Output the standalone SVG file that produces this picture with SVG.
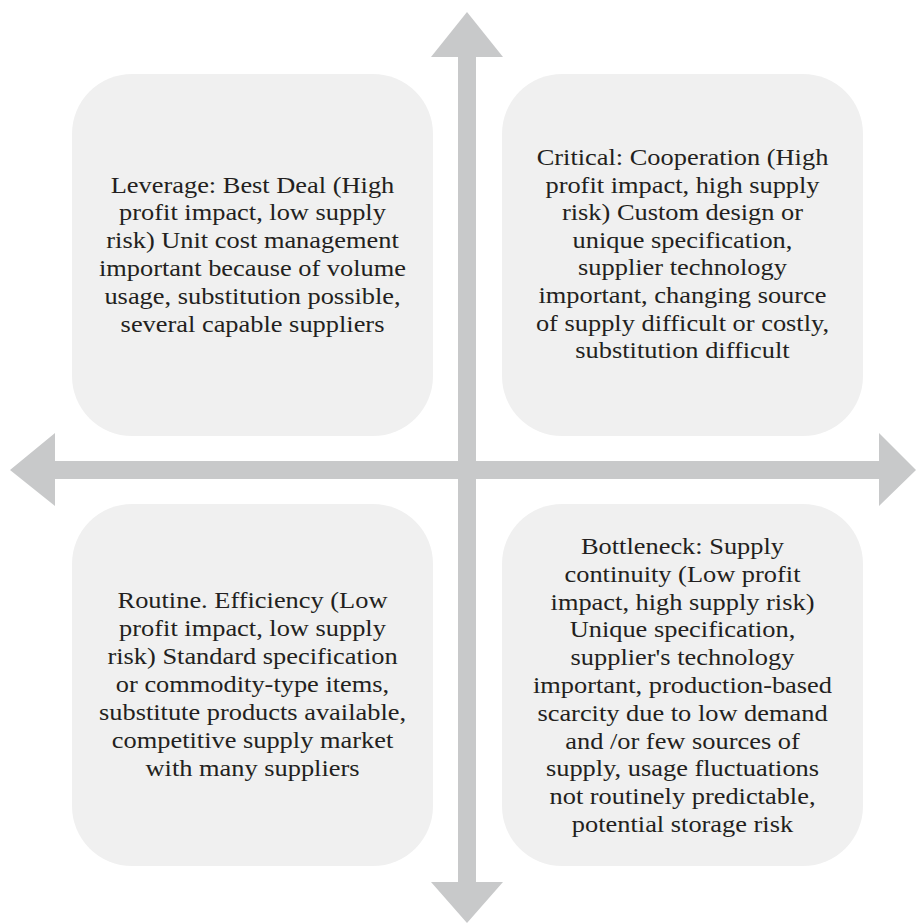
<svg xmlns="http://www.w3.org/2000/svg" width="917" height="924" viewBox="0 0 917 924">
<style>
.box{fill:#f0f0f0}
.arrow{fill:#c8c9ca}
.t{font-family:"Liberation Serif","Times New Roman",serif;font-size:24px;fill:#231f20;text-anchor:middle}
</style>
<rect width="917" height="924" fill="#ffffff"/>
<g id="connectors">
<path class="arrow" d="M458 57 L431 57 L467 12 L503 57 L476 57 L476 882 L503 882 L467 923 L431 882 L458 882 Z"/>
<path class="arrow" d="M55 461 L55 433 L10 470 L55 506 L55 479 L879 479 L879 506 L916 470 L879 433 L879 461 Z"/>
</g>
<g id="leverage">
<rect class="box" x="72" y="74" width="361" height="362" rx="60"/>
<text class="t" transform="translate(252.5,0) scale(1.1,1)"><tspan x="0" y="192.7">Leverage: Best Deal (High</tspan><tspan x="0" y="220.5">profit impact, low supply</tspan><tspan x="0" y="248.3">risk) Unit cost management</tspan><tspan x="0" y="276.1">important because of volume</tspan><tspan x="0" y="303.9">usage, substitution possible,</tspan><tspan x="0" y="331.7">several capable suppliers</tspan></text>
</g>
<g id="critical">
<rect class="box" x="502" y="74" width="361" height="362" rx="60"/>
<text class="t" transform="translate(682.5,0) scale(1.1,1)"><tspan x="0" y="165">Critical: Cooperation (High</tspan><tspan x="0" y="192.6">profit impact, high supply</tspan><tspan x="0" y="220.2">risk) Custom design or</tspan><tspan x="0" y="247.8">unique specification,</tspan><tspan x="0" y="275.4">supplier technology</tspan><tspan x="0" y="303">important, changing source</tspan><tspan x="0" y="330.6">of supply difficult or costly,</tspan><tspan x="0" y="358.2">substitution difficult</tspan></text>
</g>
<g id="routine">
<rect class="box" x="72" y="504" width="361" height="362" rx="60"/>
<text class="t" transform="translate(252.5,0) scale(1.1,1)"><tspan x="0" y="608.3">Routine. Efficiency (Low</tspan><tspan x="0" y="636.2">profit impact, low supply</tspan><tspan x="0" y="664.1">risk) Standard specification</tspan><tspan x="0" y="692">or commodity-type items,</tspan><tspan x="0" y="719.9">substitute products available,</tspan><tspan x="0" y="747.8">competitive supply market</tspan><tspan x="0" y="775.7">with many suppliers</tspan></text>
</g>
<g id="bottleneck">
<rect class="box" x="502" y="504" width="361" height="362" rx="60"/>
<text class="t" transform="translate(682.5,0) scale(1.1,1)"><tspan x="0" y="554">Bottleneck: Supply</tspan><tspan x="0" y="581.8">continuity (Low profit</tspan><tspan x="0" y="609.6">impact, high supply risk)</tspan><tspan x="0" y="637.4">Unique specification,</tspan><tspan x="0" y="665.2">supplier's technology</tspan><tspan x="0" y="693">important, production-based</tspan><tspan x="0" y="720.8">scarcity due to low demand</tspan><tspan x="0" y="748.6">and /or few sources of</tspan><tspan x="0" y="776.4">supply, usage fluctuations</tspan><tspan x="0" y="804.2">not routinely predictable,</tspan><tspan x="0" y="832">potential storage risk</tspan></text>
</g>
</svg>
